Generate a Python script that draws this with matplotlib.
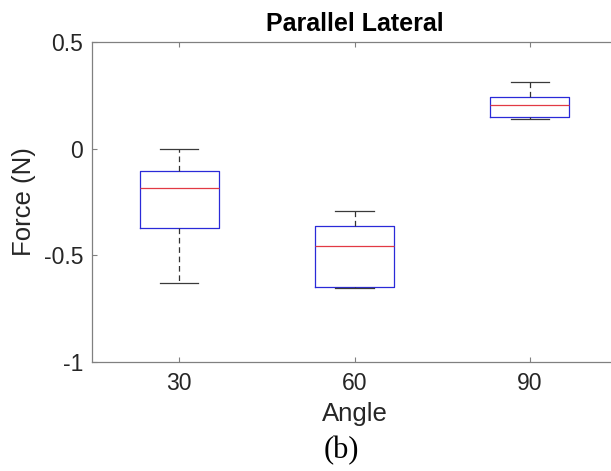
import matplotlib.pyplot as plt

# Data (Force in N)
angles = ['30', '60', '90']
whisker_low = [-0.63, -0.653, 0.14]
q1 = [-0.374, -0.648, 0.150]
median = [-0.184, -0.458, 0.206]
q3 = [-0.106, -0.363, 0.241]
whisker_high = [0.0, -0.291, 0.312]

plt.rcParams['font.family'] = 'Liberation Sans'

fig = plt.figure(figsize=(6.11, 4.71), dpi=100)
ax = fig.add_axes([91.5 / 611, 1 - 362 / 471, 526 / 611, 320 / 471])

stats = []
for i in range(len(angles)):
    stats.append({'label': angles[i], 'whislo': whisker_low[i], 'q1': q1[i],
                  'med': median[i], 'q3': q3[i], 'whishi': whisker_high[i], 'fliers': []})

ax.bxp(stats, positions=[1, 2, 3], widths=0.45, showfliers=False,
       boxprops=dict(color='#2a2ad8', linewidth=0.9),
       medianprops=dict(color='#e23a44', linewidth=0.9),
       whiskerprops=dict(color='#333333', linewidth=0.9, linestyle=(0, (4.5, 3.0))),
       capprops=dict(color='#3a3a3a', linewidth=0.9), capwidths=0.22)

ax.set_xlim(0.5, 3.5)
ax.set_ylim(-1, 0.5)
ax.set_yticks([-1, -0.5, 0, 0.5])
ax.set_yticklabels(['-1', '-0.5', '0', '0.5'])

# the right side of the box is cut off in the original picture
ax.spines['right'].set_visible(False)
for sp in ax.spines.values():
    sp.set_color('#808080')
    sp.set_linewidth(0.9)
ax.tick_params(direction='in', length=3.6, width=0.8, color='#808080',
               labelsize=16.5, labelcolor='#262626', top=True, right=False)
ax.tick_params(axis='x', pad=7)
ax.tick_params(axis='y', pad=6)

ax.set_title('Parallel Lateral', fontsize=18, fontweight='bold', pad=8)
ax.set_xlabel('Angle', fontsize=18.5, color='#262626')
ax.set_ylabel('Force (N)', fontsize=18.5, color='#262626')
ax.xaxis.set_label_coords(0.5, -0.125)
ax.yaxis.set_label_coords(-0.106, 0.5)

fig.text(341.7 / 611, 1 - 451 / 471, '(b)', family='Liberation Serif', fontsize=22,
         ha='center', va='center')

fig.savefig('out.png', dpi=100)
